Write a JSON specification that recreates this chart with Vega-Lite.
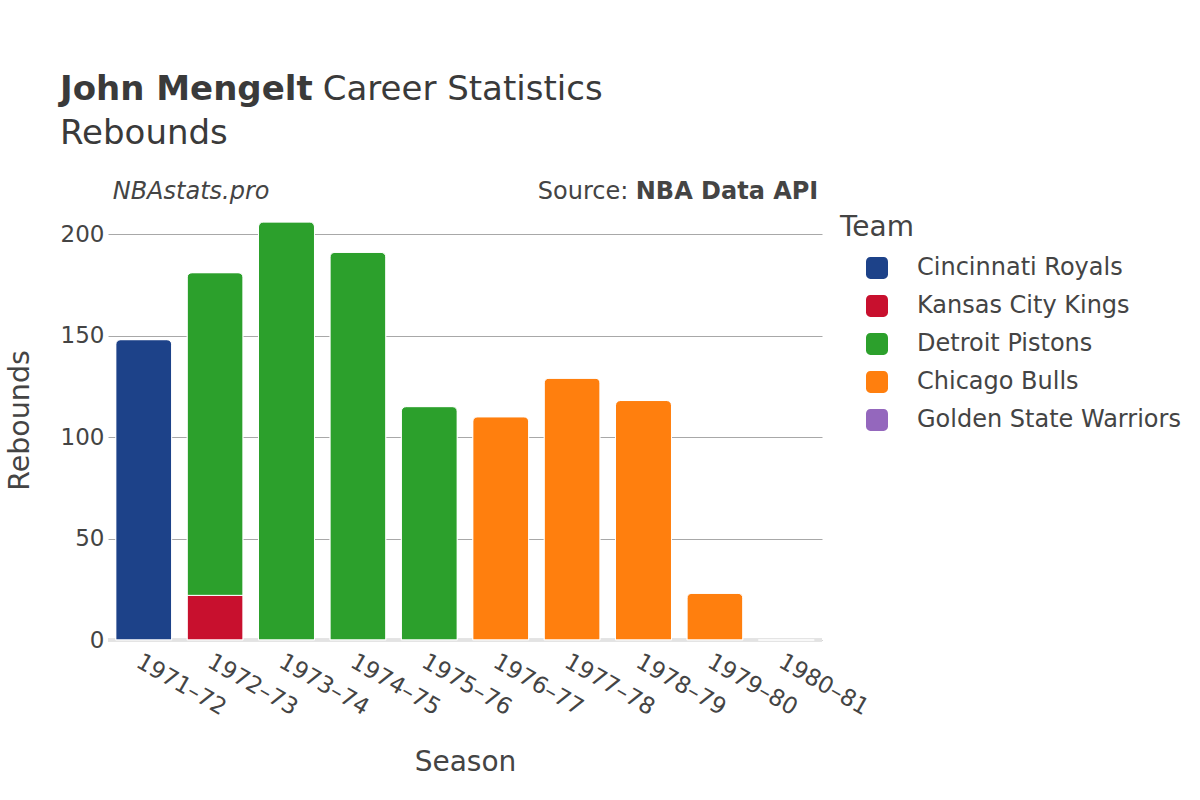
{
  "$schema": "https://vega.github.io/schema/vega-lite/v6.json",
  "width": 714,
  "height": 440,
  "autosize": {"type": "none"},
  "padding": {"left": 108, "top": 200, "right": 378, "bottom": 160},
  "background": "white",
  "config": {
    "font": "DejaVu Sans",
    "view": {"stroke": null},
    "axis": {"labelColor": "#444", "titleColor": "#444", "labelFont": "DejaVu Sans", "titleFont": "DejaVu Sans", "titleFontWeight": "normal"},
    "legend": {"labelColor": "#444", "titleColor": "#444"}
  },
  "title": {
    "text": "John Mengelt",
    "subtitle": ["\u200d\u00a0\u00a0\u00a0\u00a0\u00a0\u00a0\u00a0\u00a0\u00a0\u00a0\u00a0\u00a0\u00a0\u00a0\u00a0\u00a0\u00a0\u00a0\u00a0\u00a0\u00a0\u00a0\u00a0\u00a0\u200aCareer Statistics", "Rebounds"],
    "anchor": "start",
    "frame": "group",
    "dx": -48,
    "fontSize": 34,
    "fontWeight": "bold",
    "color": "#3a3a3a",
    "subtitleFontSize": 34,
    "subtitleColor": "#3a3a3a",
    "subtitleFontWeight": "normal",
    "subtitleLineHeight": 44,
    "subtitlePadding": -34,
    "offset": 29
  },
  "data": {
    "values": [
      {"Season": "1971–72", "Team": "Cincinnati Royals", "Rebounds": 148},
      {"Season": "1972–73", "Team": "Kansas City Kings", "Rebounds": 22},
      {"Season": "1972–73", "Team": "Detroit Pistons", "Rebounds": 159},
      {"Season": "1973–74", "Team": "Detroit Pistons", "Rebounds": 206},
      {"Season": "1974–75", "Team": "Detroit Pistons", "Rebounds": 191},
      {"Season": "1975–76", "Team": "Detroit Pistons", "Rebounds": 115},
      {"Season": "1976–77", "Team": "Chicago Bulls", "Rebounds": 110},
      {"Season": "1977–78", "Team": "Chicago Bulls", "Rebounds": 129},
      {"Season": "1978–79", "Team": "Chicago Bulls", "Rebounds": 118},
      {"Season": "1979–80", "Team": "Chicago Bulls", "Rebounds": 23},
      {"Season": "1980–81", "Team": "Golden State Warriors", "Rebounds": 0}
    ]
  },
  "encoding": {
    "x": {
      "field": "Season",
      "type": "nominal",
      "scale": {"paddingInner": 0.216, "paddingOuter": 0.108},
      "axis": {
        "title": "Season",
        "titleFontSize": 28,
        "titlePadding": 29,
        "labelFontSize": 23,
        "labelAngle": 30,
        "labelPadding": 10,
        "ticks": false,
        "domain": false
      }
    }
  },
  "layer": [
    {
      "mark": {"type": "rule", "color": "#e3e3e3", "strokeWidth": 3},
      "encoding": {"y": {"datum": 0, "type": "quantitative"}, "x": {}}
    },
    {
      "mark": {"type": "bar", "cornerRadiusTopLeft": 5, "cornerRadiusTopRight": 5, "stroke": "white", "strokeWidth": 1},
      "encoding": {
        "y": {
          "field": "Rebounds",
          "type": "quantitative",
          "stack": "zero",
          "scale": {"domain": [0, 216.8], "nice": false},
          "axis": {
            "title": "Rebounds",
            "titleFontSize": 28.5,
            "titlePadding": 26,
            "labelFontSize": 23,
            "labelPadding": 4,
            "values": [0, 50, 100, 150, 200],
            "ticks": false,
            "domain": false,
            "grid": true,
            "gridColor": "#a8a8a8",
            "gridWidth": 1
          }
        },
        "color": {
          "field": "Team",
          "type": "nominal",
          "scale": {
            "domain": ["Cincinnati Royals", "Kansas City Kings", "Detroit Pistons", "Chicago Bulls", "Golden State Warriors"],
            "range": ["#1d4289", "#c8102e", "#2ca02c", "#ff7f0e", "#9467bd"]
          },
          "legend": {
            "title": "Team",
            "orient": "none",
            "legendX": 732,
            "legendY": 14,
            "titleFontSize": 28,
            "titleFontWeight": "normal",
            "titlePadding": 14,
            "labelFontSize": 24,
            "labelLimit": 0,
            "labelOffset": 28,
            "symbolOffset": 25,
            "symbolSize": 484,
            "symbolType": "M -0.6 -1 L 0.6 -1 A 0.4 0.4 0 0 1 1 -0.6 L 1 0.6 A 0.4 0.4 0 0 1 0.6 1 L -0.6 1 A 0.4 0.4 0 0 1 -1 0.6 L -1 -0.6 A 0.4 0.4 0 0 1 -0.6 -1 Z",
            "symbolStrokeWidth": 0,
            "symbolOpacity": 1,
            "rowPadding": 14,
            "padding": 0
          }
        },
        "order": {"field": "Team", "sort": "descending"}
      }
    },
    {
      "data": {"values": [{"label": "NBAstats.pro"}]},
      "mark": {"type": "text", "align": "left", "baseline": "middle", "fontSize": 24, "fontStyle": "italic", "color": "#444", "dx": -31},
      "encoding": {"text": {"field": "label"}, "x": {"datum": "1971–72"}, "y": {"datum": 220.5, "type": "quantitative"}}
    },
    {
      "data": {"values": [{"label": "Source:"}]},
      "mark": {"type": "text", "align": "right", "baseline": "middle", "fontSize": 24, "color": "#444", "dx": -158},
      "encoding": {"text": {"field": "label"}, "x": {"datum": "1980–81"}, "y": {"datum": 220.5, "type": "quantitative"}}
    },
    {
      "data": {"values": [{"label": "NBA Data API"}]},
      "mark": {"type": "text", "align": "right", "baseline": "middle", "fontSize": 24, "fontWeight": "bold", "color": "#444", "dx": 32},
      "encoding": {"text": {"field": "label"}, "x": {"datum": "1980–81"}, "y": {"datum": 220.5, "type": "quantitative"}}
    }
  ]
}
